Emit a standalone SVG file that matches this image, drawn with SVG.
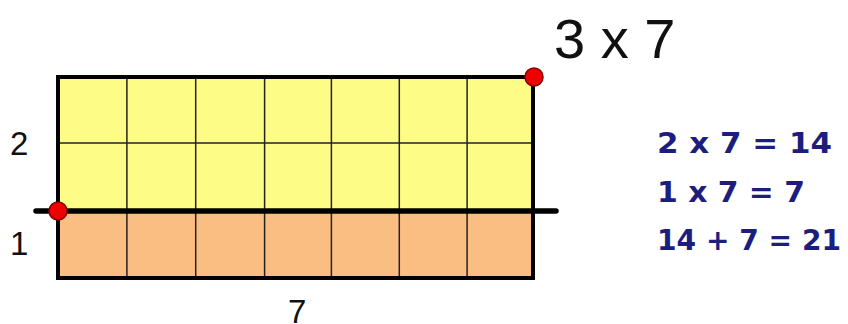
<svg xmlns="http://www.w3.org/2000/svg" width="848" height="324" viewBox="0 0 848 324">
<style>
.lbl{font-family:"Liberation Sans",Arial,sans-serif;fill:#111}
.eq{font-family:"DejaVu Sans",sans-serif;font-weight:bold;font-size:29px;fill:#1d1d7e}
.grid{stroke:#222;stroke-width:1.5}
.dot{fill:#ee0000;stroke:#8a0000;stroke-width:1.5}
</style>
<rect width="848" height="324" fill="#fff"/>
<g id="grid-area">
<rect x="58" y="77" width="475" height="134" fill="#fdfc86"/>
<rect x="58" y="211" width="475" height="67" fill="#fbbe82"/>
<g class="grid">
<line x1="58" y1="143" x2="533" y2="143"/>
<line x1="126.9" y1="77" x2="126.9" y2="278"/>
<line x1="195.7" y1="77" x2="195.7" y2="278"/>
<line x1="264.6" y1="77" x2="264.6" y2="278"/>
<line x1="331.4" y1="77" x2="331.4" y2="278"/>
<line x1="399.3" y1="77" x2="399.3" y2="278"/>
<line x1="467.1" y1="77" x2="467.1" y2="278"/>
</g>
<rect x="58" y="77" width="475" height="201" fill="none" stroke="#000" stroke-width="4"/>
<line x1="36" y1="211" x2="556" y2="211" stroke="#000" stroke-width="5.5" stroke-linecap="round"/>
<circle class="dot" cx="58" cy="211" r="9"/>
<circle class="dot" cx="534" cy="77" r="9"/>
</g>
<g id="labels">
<text class="lbl" x="554" y="58" font-size="56">3 x 7</text>
<text class="lbl" x="10" y="155" font-size="33">2</text>
<text class="lbl" x="10" y="255" font-size="33">1</text>
<text class="lbl" x="288" y="323" font-size="33">7</text>
</g>
<g id="equations">
<text class="eq" x="657" y="153" textLength="175" lengthAdjust="spacingAndGlyphs">2 x 7 = 14</text>
<text class="eq" x="657" y="202" textLength="148" lengthAdjust="spacingAndGlyphs">1 x 7 = 7</text>
<text class="eq" x="657" y="250" textLength="184" lengthAdjust="spacingAndGlyphs">14 + 7 = 21</text>
</g>
</svg>
